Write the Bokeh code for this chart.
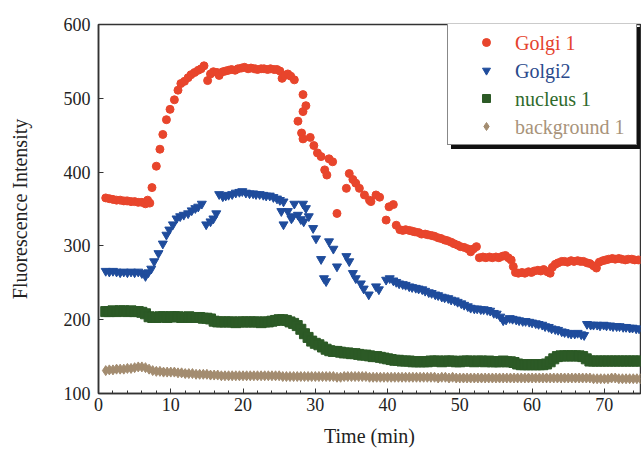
from bokeh.plotting import figure
from bokeh.models import Legend, LegendItem, SingleIntervalTicker, Range1d
from bokeh.embed import file_html
from bokeh.resources import INLINE

# ---------------- data ----------------
golgi1_time = [
    1.0, 1.5, 2.0, 2.5, 3.0, 3.5, 4.0, 4.5, 5.0, 5.5, 6.0, 6.5, 6.8, 7.1, 7.4,
    8.0, 8.5, 8.9, 9.4, 9.9, 10.5, 11.0, 11.4, 11.9, 12.4, 12.8, 13.3, 13.8, 14.2, 14.6,
    15.1, 15.5, 15.9, 16.4, 16.7, 17.2, 17.6, 18.0, 18.4, 18.9, 19.3, 19.8, 20.2, 20.7,
    21.1, 21.6, 22.0, 22.5, 22.9, 23.4, 23.8, 24.3, 24.7, 25.1, 25.4, 25.8, 26.2, 26.6,
    27.1, 27.6, 28.1, 28.3, 28.3, 28.3, 28.7, 29.3, 29.8, 30.3, 30.8, 31.3, 31.6, 31.9,
    32.4, 33.0, 34.3, 34.7, 35.2, 35.6, 36.1, 36.8, 37.5, 37.7, 38.4, 38.9, 39.8, 40.2,
    40.8, 41.2, 41.7, 42.1, 42.5, 43.0, 43.4, 43.8, 44.3, 44.7, 45.2, 45.6, 46.1, 46.5,
    47.0, 47.4, 47.9, 48.3, 48.8, 49.2, 49.7, 50.1, 50.6, 51.1, 51.5, 51.9, 52.3, 52.7,
    53.2, 53.6, 54.1, 54.5, 55.0, 55.4, 55.9, 56.3, 56.7, 57.1, 57.4, 57.7, 58.1, 58.6,
    59.0, 59.5, 59.9, 60.3, 60.8, 61.2, 61.6, 62.1, 62.5, 62.8, 63.2, 63.6, 64.1, 64.5,
    64.9, 65.4, 65.8, 66.3, 66.7, 67.1, 67.6, 68.0, 68.5, 68.9, 69.3, 69.8, 70.2, 70.6,
    71.1, 71.5, 72.0, 72.4, 72.9, 73.3, 73.8, 74.2, 74.7,
]
golgi1 = [
    365, 364, 363, 362, 362, 361, 361, 360, 360, 359, 359, 357, 362, 358, 379,
    408, 431, 451, 471, 485, 498, 511, 520, 523, 528, 532, 535, 538, 540, 544,
    524, 533, 536, 535, 531, 536, 537, 538, 539, 538, 540, 541, 542, 540,
    541, 540, 539, 540, 540, 539, 540, 539, 539, 537, 527, 531, 533, 530,
    525, 469, 453, 505, 482, 445, 490, 447, 436, 426, 421, 403, 396, 418,
    414, 344, 378, 398, 390, 385, 378, 369, 362, 360, 369, 366, 335, 353,
    356, 328, 322, 321, 322, 321, 320, 319, 318, 316, 316, 315, 314, 313,
    311, 310, 308, 307, 305, 303, 301, 299, 298, 296, 292, 296, 299, 284,
    285, 284, 285, 284, 285, 284, 286, 287, 284, 281, 272, 264, 263, 264,
    263, 265, 264, 266, 267, 266, 268, 265, 263, 271, 275, 277, 279, 279,
    278, 280, 279, 280, 279, 279, 277, 276, 273, 270, 278, 280, 281, 282,
    283, 282, 283, 282, 281, 282, 282, 281, 281,
]

golgi2_time = [
    1.0, 1.5, 2.0, 2.5, 3.0, 3.5, 4.0, 4.5, 5.0, 5.5, 6.0, 6.5, 6.9, 7.3, 7.7,
    8.3, 8.9, 9.4, 9.8, 10.3, 10.8, 11.3, 11.8, 12.4, 12.9, 13.4, 13.8, 14.3, 14.9,
    15.5, 15.9, 16.3, 16.7, 17.2, 17.6, 18.0, 18.5, 19.0, 19.5, 19.9, 20.4, 20.9,
    21.4, 21.8, 22.3, 22.8, 23.2, 23.7, 24.2, 24.7, 25.1, 25.3, 25.6, 25.6, 26.2,
    26.7, 26.9, 27.1, 27.6, 28.0, 28.3, 28.4, 28.7, 29.1, 29.7, 30.1, 30.8, 31.2,
    31.5, 31.9, 32.5, 33.0, 34.3, 34.7, 35.2, 35.6, 36.3, 36.7, 37.4, 38.4, 38.8,
    39.8, 40.3, 40.8, 41.2, 41.6, 42.1, 42.5, 43.0, 43.4, 43.9, 44.3, 44.8, 45.2,
    45.7, 46.1, 46.6, 47.0, 47.5, 47.9, 48.4, 48.8, 49.3, 49.7, 50.2, 50.6, 51.1,
    51.5, 52.0, 52.4, 52.9, 53.3, 53.8, 54.2, 54.7, 55.1, 55.6, 56.0, 56.4, 56.9,
    57.3, 57.8, 58.2, 58.7, 59.1, 59.6, 60.0, 60.5, 60.9, 61.4, 61.8, 62.3, 62.7,
    63.2, 63.6, 64.1, 64.5, 65.0, 65.4, 65.9, 66.3, 66.8, 67.2, 67.6, 68.1, 68.5,
    69.0, 69.4, 69.9, 70.3, 70.8, 71.2, 71.7, 72.1, 72.6, 73.0, 73.5, 73.9, 74.4, 74.8,
]
golgi2 = [
    266, 265, 266, 265, 264, 265, 264, 265, 264, 265, 263, 259, 264, 269, 279,
    290, 303, 315, 322, 329, 337, 340, 342, 344, 348, 351, 353, 357, 329,
    333, 337, 344, 370, 367, 368, 369, 370, 372, 373, 374, 372, 371,
    371, 370, 370, 369, 368, 368, 366, 364, 362, 347, 360, 329, 347,
    337, 340, 357, 342, 336, 357, 333, 351, 340, 324, 310, 282, 256,
    252, 306, 296, 272, 286, 279, 263, 256, 249, 242, 234, 245, 241,
    254, 256, 253, 251, 249, 248, 247, 245, 244, 243, 242, 241, 239,
    237, 236, 234, 233, 231, 230, 229, 227, 226, 224, 222, 220, 218,
    216, 215, 215, 214, 214, 213, 212, 209, 208, 204, 199, 200, 202,
    201, 200, 199, 198, 198, 197, 196, 195, 194, 193, 191, 190, 188,
    187, 186, 184, 183, 182, 181, 181, 182, 180, 179, 194, 193, 193,
    193, 192, 193, 192, 192, 191, 191, 191, 190, 190, 189, 189, 188, 188,
]

# nucleus 1 and background 1 are sampled every 0.5 min from 1.0 to 75.0 min
band_time = [1.0 + 0.5 * i for i in range(149)]
nucleus1 = [
    211, 211, 212, 211, 212, 212, 211, 212, 211, 211,
    210, 208, 204, 203, 203, 204, 204, 203, 204, 204,
    204, 203, 203, 204, 203, 203, 203, 202, 202, 201,
    198, 197, 197, 197, 197, 197, 196, 197, 197, 197,
    197, 197, 197, 196, 197, 197, 198, 199, 200, 200,
    199, 197, 195, 192, 187, 181, 176, 171, 168, 166,
    163, 160, 158, 157, 157, 156, 155, 155, 154, 154,
    153, 152, 152, 151, 150, 150, 149, 148, 147, 146,
    145, 145, 144, 144, 144, 143, 143, 143, 143, 143,
    144, 144, 144, 143, 144, 144, 144, 143, 143, 144,
    144, 144, 143, 144, 144, 143, 144, 143, 143, 143,
    144, 143, 143, 142, 140, 139, 139, 139, 139, 139,
    139, 139, 140, 143, 147, 150, 151, 151, 151, 151,
    151, 151, 150, 147, 144, 144, 144, 144, 144, 144,
    144, 144, 144, 144, 144, 144, 144, 144, 144,
]
background1 = [
    131, 132, 132, 133, 133, 133, 134, 134, 135, 136,
    136, 135, 133, 131, 130, 130, 129, 129, 129, 129,
    128, 128, 127, 127, 127, 126, 126, 126, 126, 125,
    125, 125, 124, 124, 124, 124, 124, 124, 124, 124,
    124, 124, 124, 124, 124, 124, 124, 124, 124, 123,
    123, 123, 123, 123, 123, 123, 123, 123, 123, 123,
    123, 123, 123, 123, 122, 122, 123, 123, 123, 123,
    123, 123, 123, 122, 122, 122, 122, 122, 122, 122,
    122, 122, 122, 122, 122, 122, 122, 122, 122, 122,
    122, 122, 121, 122, 122, 121, 122, 121, 121, 121,
    121, 121, 121, 121, 121, 121, 121, 121, 121, 121,
    121, 121, 121, 121, 121, 121, 121, 121, 121, 121,
    121, 121, 121, 121, 121, 121, 121, 121, 121, 121,
    121, 121, 121, 121, 121, 120, 120, 120, 120, 120,
    121, 121, 120, 120, 120, 120, 120, 120, 120,
]

series_names = ["Golgi 1", "Golgi2", "nucleus 1", "background 1"]
x_ticks_interval = 10
y_ticks_interval = 100

# ---------------- styles ----------------
RED, BLUE, GREEN, TAN = "#E8452C", "#1F4C9C", "#2C5A26", "#A38C70"
TEXT_COLORS = ["#E5432E", "#2A4A8C", "#2F6A2C", "#A8937A"]
FONT = "Liberation Serif"
INK = "#222222"

p = figure(width=641, height=456, output_backend="svg", toolbar_location=None,
           x_range=Range1d(0, 75), y_range=Range1d(100, 600),
           min_border_left=98, min_border_right=1, min_border_top=24,
           min_border_bottom=63)
p.background_fill_color = "white"
p.border_fill_color = "white"
p.outline_line_color = "#333333"
p.outline_line_width = 1.5
p.xgrid.visible = False
p.ygrid.visible = False

r_bg = p.scatter(band_time, background1, marker="diamond", size=10,
                 fill_color=TAN, line_color=TAN)
r_nu = p.scatter(band_time, nucleus1, marker="square", size=10,
                 fill_color=GREEN, line_color=GREEN)
r_g2 = p.scatter(golgi2_time, golgi2, marker="inverted_triangle", size=9,
                 fill_color=BLUE, line_color=BLUE)
r_g1 = p.scatter(golgi1_time, golgi1, marker="circle", size=8,
                 fill_color=RED, line_color=RED)
# an empty, invisible renderer used only to carry the coloured legend texts
r_none = p.scatter(x=[], y=[], marker="circle", size=1, fill_alpha=0, line_alpha=0)

# axes
p.xaxis.ticker = SingleIntervalTicker(interval=x_ticks_interval, num_minor_ticks=5)
p.yaxis.ticker = SingleIntervalTicker(interval=y_ticks_interval, num_minor_ticks=5)
for ax in (p.xaxis[0], p.yaxis[0]):
    ax.axis_line_color = "#333333"
    ax.axis_line_width = 1.5
    ax.major_tick_line_color = "#333333"
    ax.major_tick_in = 5
    ax.major_tick_out = 0
    ax.minor_tick_in = 3
    ax.minor_tick_out = 0
    ax.major_label_text_font = FONT
    ax.major_label_text_font_size = "18px"
    ax.major_label_text_color = INK
    ax.axis_label_text_font = FONT
    ax.axis_label_text_font_size = "20px"
    ax.axis_label_text_font_style = "normal"
    ax.axis_label_text_color = INK
p.yaxis.minor_tick_line_color = None
p.xaxis.minor_tick_line_color = "#333333"
p.xaxis.axis_label = "Time (min)"
p.yaxis.axis_label = "Fluorescence Intensity"
p.xaxis.major_label_standoff = 4
p.xaxis.axis_label_standoff = 11
p.yaxis.major_label_standoff = 8
p.yaxis.axis_label_standoff = 30

# legend: shadow box, main box with glyphs, then one coloured text per series
renderers = [r_g1, r_g2, r_nu, r_bg]
common = dict(orientation="vertical", padding=8, margin=0, spacing=8,
              glyph_width=60, glyph_height=20, label_width=112, label_height=20,
              label_standoff=0, label_text_font_size="10px", click_policy="none")
shadow = Legend(items=[LegendItem(label=" ", renderers=[r]) for r in renderers],
                location=(353, 244), background_fill_color="#111111",
                background_fill_alpha=1, border_line_color="#111111", **common)
box = Legend(items=[LegendItem(label=" ", renderers=[r]) for r in renderers],
             location=(349, 248), background_fill_color="white",
             background_fill_alpha=1, border_line_color="#111111",
             border_line_width=1.2, **common)
p.add_layout(shadow)
p.add_layout(box)
for i, (name, col) in enumerate(zip(series_names, TEXT_COLORS)):
    txt = Legend(items=[LegendItem(label=name, renderers=[r_none])],
                 location=(416, 336 - 28 * i), orientation="vertical",
                 padding=0, margin=0, spacing=0, glyph_width=1, glyph_height=28,
                 label_height=28, label_standoff=0,
                 label_text_font=FONT, label_text_font_size="20px",
                 label_text_color=col, background_fill_alpha=0,
                 border_line_alpha=0, click_policy="none")
    p.add_layout(txt)

open("out.html", "w").write(file_html(p, INLINE))
